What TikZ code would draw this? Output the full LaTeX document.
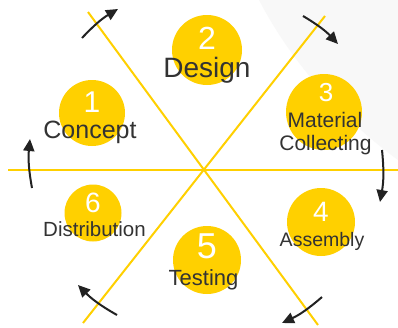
\documentclass[tikz,border=0pt]{standalone}
\usepackage{fontspec}
\setmainfont{Liberation Sans}
\usetikzlibrary{arrows.meta}
\definecolor{gold}{HTML}{FFD000}
\definecolor{ink}{HTML}{333333}
\definecolor{arrowink}{HTML}{222222}
\definecolor{bggray}{HTML}{F8F8F8}
\begin{document}
\begin{tikzpicture}[x=1pt,y=-1pt,
  disc/.style={circle,fill=gold,inner sep=0pt},
  num/.style={text=white,inner sep=0pt,anchor=center},
  lbl/.style={text=ink,inner sep=0pt,anchor=base},
  spoke/.style={draw=gold,line width=2pt},
  turn/.style={draw=arrowink,line width=2pt,-{Triangle[length=12pt,width=11pt]}}
]
\useasboundingbox (0,0) rectangle (398,327);
\fill[white] (0,0) rectangle (398,327);
% faint background shape
\fill[bggray] (259,0) .. controls (285,50) and (330,110) .. (398,160) -- (398,0) -- cycle;

% circles
\node[disc,minimum size=66pt] (c1) at (92,113) {};
\node[disc,minimum size=70pt] (c2) at (207,50) {};
\node[disc,minimum size=76pt] (c3) at (324,112) {};
\node[disc,minimum size=68pt] (c4) at (321,222) {};
\node[disc,minimum size=68pt] (c5) at (207,260) {};
\node[disc,minimum size=57pt] (c6) at (93,213) {};

% spokes
\coordinate (h1) at (8,170);
\coordinate (h2) at (398,170);
\coordinate (d1a) at (88,12);
\coordinate (d1b) at (318,325);
\coordinate (d2a) at (325,16);
\coordinate (d2b) at (83,323);
\draw[spoke] (h1) -- (h2);
\draw[spoke] (d1a) -- (d1b);
\draw[spoke] (d2a) -- (d2b);

% numbers
\node[num,font=\fontsize{30}{30}\selectfont] (n1) at (92,102.5) {1};
\node[num,font=\fontsize{32}{32}\selectfont] (n2) at (207,38.5) {2};
\node[num,font=\fontsize{26}{26}\selectfont] (n3) at (326,92.5) {3};
\node[num,font=\fontsize{28}{28}\selectfont] (n4) at (321,212) {4};
\node[num,font=\fontsize{36}{36}\selectfont] (n5) at (207,246.5) {5};
\node[num,font=\fontsize{28}{28}\selectfont] (n6) at (93,203) {6};

% labels
\node[lbl,font=\fontsize{25}{25}\selectfont] (l1) at (90,138) {Concept};
\node[lbl,font=\fontsize{28}{28}\selectfont] (l2) at (207,77) {Design};
\node[lbl,font=\fontsize{21}{21}\selectfont] (l3a) at (325,127) {Material};
\node[lbl,font=\fontsize{21}{21}\selectfont] (l3b) at (325.5,150) {Collecting};
\node[lbl,font=\fontsize{19.5}{19.5}\selectfont] (l4) at (322,246) {Assembly};
\node[lbl,font=\fontsize{22}{22}\selectfont] (l5) at (203.5,285) {Testing};
\node[lbl,font=\fontsize{20.5}{20.5}\selectfont] (l6) at (94.5,236) {Distribution};

% rotation arrows
\coordinate (a1s) at (82,38);   \coordinate (a1e) at (118,9);
\coordinate (a2s) at (303,16);  \coordinate (a2e) at (338,44);
\coordinate (a3s) at (382,150); \coordinate (a3e) at (380,202);
\coordinate (a4s) at (322,297); \coordinate (a4e) at (282,323);
\coordinate (a5s) at (117,315); \coordinate (a5e) at (78,285);
\coordinate (a6s) at (32,188);  \coordinate (a6e) at (30,139);
\draw[turn] (a1s) to[bend left=8] (a1e);
\draw[turn] (a2s) to[bend left=8] (a2e);
\draw[turn] (a3s) to[bend left=8] (a3e);
\draw[turn] (a4s) to[bend left=8] (a4e);
\draw[turn] (a5s) to[bend left=8] (a5e);
\draw[turn] (a6s) to[bend left=8] (a6e);
\end{tikzpicture}
\end{document}
